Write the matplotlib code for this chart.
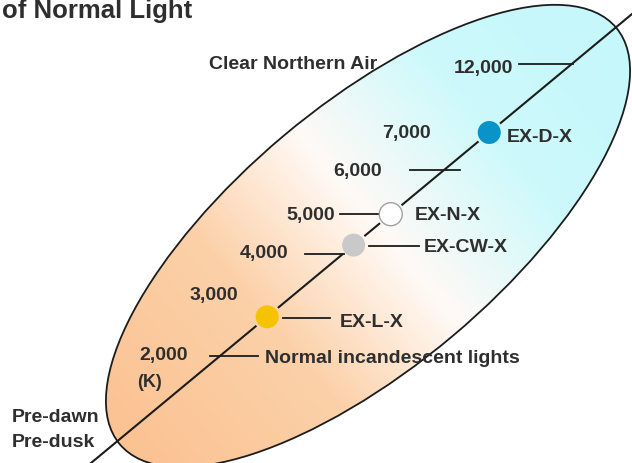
import numpy as np
import matplotlib
matplotlib.use('Agg')
import matplotlib.pyplot as plt
from matplotlib.patches import Ellipse, Circle
from matplotlib.colors import LinearSegmentedColormap

# colour temperature scale (kelvin)
kelvin_ticks = [2000, 3000, 4000, 5000, 6000, 7000, 12000]
kelvin_labels = ['2,000', '3,000', '4,000', '5,000', '6,000', '7,000', '12,000']
unit_label = '(K)'

# lamps placed on the scale
lamp_names = ['EX-L-X', 'EX-CW-X', 'EX-N-X', 'EX-D-X']
lamp_kelvin = [3000, 4200, 5000, 7000]
lamp_fill = ['#f5c300', '#c9c9c9', '#ffffff', '#0a93c9']
lamp_edge = ['none', 'none', '#a0a0a0', 'none']

# reference light sources
source_names = ['Pre-dawn\nPre-dusk', 'Normal incandescent lights', 'Clear Northern Air']
title = 'of Normal Light'

W, H = 632, 463
text_color = '#2e2e2e'
line_color = '#1c1c1c'
fs = 14

plt.rcParams['font.family'] = ['Liberation Sans', 'DejaVu Sans']
plt.rcParams['font.weight'] = 'bold'

fig = plt.figure(figsize=(W / 100, H / 100), dpi=100)
ax = fig.add_axes([0, 0, 1, 1])

# illustrative scale: where each kelvin tick sits along the diagonal (0..1)
scale_pos = [0.247, 0.333, 0.472, 0.559, 0.656, 0.739, 0.890]
line_start = np.array([85.0, 468.0])
line_end = np.array([632.0, 14.0])


def scale_t(k):
    return np.interp(np.log(k), np.log(kelvin_ticks), scale_pos)


def on_scale(k):
    t = scale_t(k)
    return line_start + t * (line_end - line_start)


# ellipse with orange -> white -> cyan gradient
cx, cy, a, b, ang = 368, 236, 324, 131, 40
xx, yy = np.meshgrid(np.arange(W) + 0.5, np.arange(H) + 0.5)
ux, uy = np.cos(np.radians(ang)), -np.sin(np.radians(ang))
s = ((xx - cx) * ux + (yy - cy) * uy) / a
cmap = LinearSegmentedColormap.from_list(
    'sky', [(0, '#fbc292'), (0.3, '#fcd1a9'), (0.52, '#fffaf6'), (0.75, '#cdf9fc'), (1, '#c5f7fb')])
img = ax.imshow(cmap(np.clip((s + 1) / 2, 0, 1)), extent=(0, W, H, 0), zorder=1, aspect='auto')
ell = Ellipse((cx, cy), 2 * a, 2 * b, angle=-ang, facecolor='none',
              edgecolor=line_color, lw=1.3, zorder=2)
ax.add_patch(ell)
img.set_clip_path(ell)

# diagonal scale line, broken around the lamp dots
lamp_t = scale_t(lamp_kelvin)
gap = 15 / np.hypot(*(line_end - line_start))
ts = [0.0]
for t in lamp_t:
    ts += [t - gap, np.nan, t + gap]
ts.append(1.0)
ts = np.array(ts)
ax.plot(line_start[0] + ts * (line_end[0] - line_start[0]),
        line_start[1] + ts * (line_end[1] - line_start[1]),
        color=line_color, lw=1.5, zorder=3)

# scale ticks (horizontal leaders, pixel spans relative to the crossing)
tick_spans = {2000: (-10, 38), 4000: (-38, 1), 5000: (-51, -12), 6000: (-34, 16), 12000: (-53, 1)}
for k, (x0, x1) in tick_spans.items():
    x, y = on_scale(k)
    ax.plot([x + x0, x + x1], [y, y], color=line_color, lw=1.3, zorder=3)

# scale labels: offset of right edge / baseline from crossing, in pixels
label_offsets = [(-32, 4), (-29, -17), (-55, 4), (-56, 6), (-62, 6), (-58, 5.5), (-59, 9)]
for k, lab, (dx, dy) in zip(kelvin_ticks, kelvin_labels, label_offsets):
    x, y = on_scale(k)
    ax.text(x + dx, y + dy, lab, ha='right', va='baseline', fontsize=fs, color=text_color)
x, y = on_scale(kelvin_ticks[0])
ax.text(x - 83, y + 31, unit_label, ha='left', va='baseline', fontsize=fs - 1, color=text_color)

# lamp dots with their leaders and names
lamp_leaders = [(16, 63), (15, 65), None, None]
lamp_text_dx = [73, 70, 24, 18]
lamp_text_dy = [10, 7, 6, 10]
for name, k, fc, ec, lead, tdx, tdy in zip(lamp_names, lamp_kelvin, lamp_fill, lamp_edge,
                                            lamp_leaders, lamp_text_dx, lamp_text_dy):
    x, y = on_scale(k)
    ax.add_patch(Circle((x, y), 11.5, facecolor=fc, edgecolor=ec, lw=1, zorder=5))
    if lead is not None:
        ax.plot([x + lead[0], x + lead[1]], [y + 1, y + 1], color=line_color, lw=1.3, zorder=3)
    ax.text(x + tdx, y + tdy, name, ha='left', va='baseline', fontsize=fs, color=text_color)

# reference sources
x, y = on_scale(kelvin_ticks[0])
ax.text(x + 45, y + 7, source_names[1], ha='left', va='baseline', fontsize=fs, color=text_color)
ax.text(209, 69, source_names[2], ha='left', va='baseline', fontsize=fs, color=text_color)
for i, line in enumerate(source_names[0].split('\n')):
    ax.text(12, 422 + 25 * i, line, ha='left', va='baseline', fontsize=fs, color=text_color)

ax.text(2, 18, title, ha='left', va='baseline', fontsize=18.5, color=text_color)

ax.set_xlim(0, W)
ax.set_ylim(H, 0)
ax.axis('off')
fig.savefig('out.png', dpi=100)
